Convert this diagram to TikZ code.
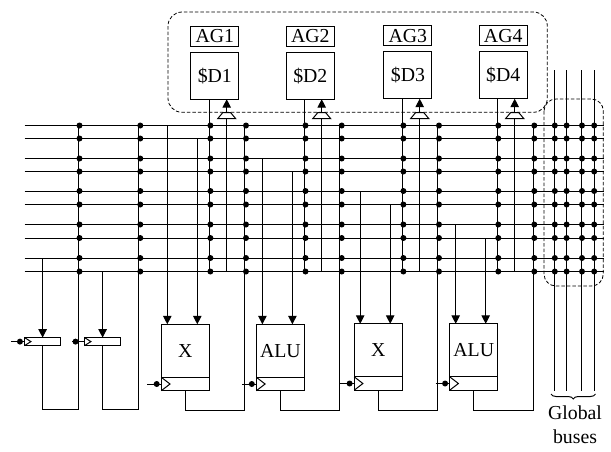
\documentclass[tikz,border=0pt]{standalone}
\usepackage{fontspec}
\setmainfont{Liberation Serif}
\usetikzlibrary{arrows.meta, positioning, decorations.pathreplacing}

\begin{document}
\begin{tikzpicture}[
    x=1pt, y=-1pt,
    every node/.style={font=\fontsize{19.8}{24}\selectfont},
    wire/.style={line width=1pt},
    arrow/.style={wire, -{Triangle[width=8.5pt,length=8.5pt]}},
    box/.style={rectangle, draw, line width=1pt, inner sep=0pt, outer sep=0pt, minimum width=48pt},
    cache/.style={box, minimum height=47pt},
    tag/.style={box, minimum height=20pt, above=6pt of #1},
    unit/.style={box, minimum height=53pt},
    latch/.style={box, minimum height=13.4pt, below=0pt of #1},
    smalllatch/.style={box, minimum width=36pt, minimum height=8pt},
    junction/.style={circle, fill=black, inner sep=0pt, minimum size=6pt},
    group/.style={line width=0.8pt, dash pattern=on 3.5pt off 2pt, rounded corners=#1}
]
\useasboundingbox (0,0) rectangle (611,451);

% Dashed groups
\draw[group=14pt] (168,12) rectangle (547.3,112.3);
\draw[group=12pt] (544,99) rectangle (603.3,286);

% Caches
\node[cache] (d1) at (214.8,75.7) {\$D1};
\node[cache] (d2) at (310.3,75.7) {\$D2};
\node[cache] (d3) at (407.9,75.2) {\$D3};
\node[cache] (d4) at (503.2,75.2) {\$D4};
\node[tag=d1] (ag1) {AG1};
\node[tag=d2] (ag2) {AG2};
\node[tag=d3] (ag3) {AG3};
\node[tag=d4] (ag4) {AG4};

% Tri-state buffers
\coordinate (buf1) at (226.7,118.7);
\coordinate (buf2) at (321.7,118.7);
\coordinate (buf3) at (419.7,118.5);
\coordinate (buf4) at (514.7,118.5);
\foreach \b in {buf1, buf2, buf3, buf4} {
    \draw[wire] ([xshift=-9pt]\b) -- ([xshift=9pt]\b) -- ([xshift=4pt,yshift=6pt]\b) -- ([xshift=-4pt,yshift=6pt]\b) -- cycle;
}

% Functional units
\node[unit] (x1) at (185.3,350.8) {X};
\node[unit] (alu1) at (280.4,350.8) {ALU};
\node[unit] (x2) at (378.2,350.3) {X};
\node[unit] (alu2) at (473.7,350.3) {ALU};
\node[latch=x1] (x1reg) {};
\node[latch=alu1] (alu1reg) {};
\node[latch=x2] (x2reg) {};
\node[latch=alu2] (alu2reg) {};

% Small registers
\node[smalllatch] (reg1) at (42.6,341.6) {};
\node[smalllatch] (reg2) at (102.6,341.6) {};

% Horizontal buses
\coordinate (busend) at (604,0);
\foreach \r/\y in {1/125.5, 2/138.5, 3/158.5, 4/171.5, 5/191, 6/204.5, 7/224.5, 8/238, 9/258, 10/271.5} {
    \coordinate (row\r) at (24.5,\y);
    \draw[wire] (row\r) -- (row\r -| busend);
}

% Return columns
\coordinate (c1) at (78.5,0);
\coordinate (c2) at (138.5,0);
\coordinate (c4) at (244.6,0);
\coordinate (c6) at (339.7,0);
\coordinate (c8) at (437.3,0);
\coordinate (c10) at (533.3,0);
\coordinate (ret1) at (0,409);
\coordinate (ret2) at (0,410.3);
\draw[wire] (c1 |- row1) -- (c1 |- ret1) -| (reg1.south);
\draw[wire] (c2 |- row1) -- (c2 |- ret1) -| (reg2.south);
\draw[wire] (c4 |- row1) -- (c4 |- ret2) -| (x1reg.south);
\draw[wire] (c6 |- row1) -- (c6 |- ret2) -| (alu1reg.south);
\draw[wire] (c8 |- row1) -- (c8 |- ret2) -| (x2reg.south);
\draw[wire] (c10 |- row1) -- (c10 |- ret2) -| (alu2reg.south);

% Cache columns
\coordinate (c3) at (209,0);
\coordinate (c5) at (304.3,0);
\coordinate (c7) at (402,0);
\coordinate (c9) at (497.3,0);
\draw[wire] (c3 |- d1.south) -- (c3 |- row10);
\draw[wire] (c5 |- d2.south) -- (c5 |- row10);
\draw[wire] (c7 |- d3.south) -- (c7 |- row10);
\draw[wire] (c9 |- d4.south) -- (c9 |- row10);

% Buffer wires
\draw[wire] (buf1) -- (buf1 |- row10);
\draw[wire] (buf2) -- (buf2 |- row10);
\draw[wire] (buf3) -- (buf3 |- row10);
\draw[wire] (buf4) -- (buf4 |- row10);
\draw[arrow] ([yshift=6pt]buf1) -- (buf1 |- d1.south);
\draw[arrow] ([yshift=6pt]buf2) -- (buf2 |- d2.south);
\draw[arrow] ([yshift=6pt]buf3) -- (buf3 |- d3.south);
\draw[arrow] ([yshift=6pt]buf4) -- (buf4 |- d4.south);

% Unit inputs
\draw[arrow] ([xshift=6pt]x1.north west |- row1) -- ([xshift=6pt]x1.north west);
\draw[arrow] ([xshift=-12pt]x1.north east |- row2) -- ([xshift=-12pt]x1.north east);
\draw[arrow] ([xshift=6pt]alu1.north west |- row3) -- ([xshift=6pt]alu1.north west);
\draw[arrow] ([xshift=-12pt]alu1.north east |- row4) -- ([xshift=-12pt]alu1.north east);
\draw[arrow] ([xshift=6pt]x2.north west |- row5) -- ([xshift=6pt]x2.north west);
\draw[arrow] ([xshift=-12pt]x2.north east |- row6) -- ([xshift=-12pt]x2.north east);
\draw[arrow] ([xshift=6pt]alu2.north west |- row7) -- ([xshift=6pt]alu2.north west);
\draw[arrow] ([xshift=-12pt]alu2.north east |- row8) -- ([xshift=-12pt]alu2.north east);
\draw[arrow] (reg1.north |- row9) -- (reg1.north);
\draw[arrow] (reg2.north |- row10) -- (reg2.north);

% Clocks
\draw[wire] ([xshift=-14pt]x1reg.west) -- node[junction, pos=0.67] (ck1) {} (x1reg.west);
\draw[wire] ([xshift=-14pt]alu1reg.west) -- node[junction, pos=0.67] (ck2) {} (alu1reg.west);
\draw[wire] ([xshift=-14pt]x2reg.west) -- node[junction, pos=0.67] (ck3) {} (x2reg.west);
\draw[wire] ([xshift=-14pt]alu2reg.west) -- node[junction, pos=0.67] (ck4) {} (alu2reg.west);
\draw[wire] ([xshift=-13.7pt]reg1.west) -- node[junction, pos=0.66] (ck5) {} (reg1.west);
\draw[wire] ([xshift=-12.6pt]reg2.west) -- node[junction, pos=0.28] (ck6) {} (reg2.west);
\foreach \n in {x1reg, alu1reg, x2reg, alu2reg} {
    \draw[wire] (\n.north west) -- ++(8.7,6.7) -- (\n.south west);
}
\foreach \n in {reg1, reg2} {
    \draw[wire] (\n.north west) -- ++(6.3,4) -- (\n.south west);
}

% Global buses
\coordinate (g1) at (554.3,70);
\coordinate (g2) at (566,70);
\coordinate (g3) at (581.7,70);
\coordinate (g4) at (594,70);
\coordinate (gend) at (0,390.7);
\foreach \g in {g1, g2, g3, g4} {
    \draw[wire] (\g) -- (\g |- gend);
}
\coordinate (bracel) at (551,394);
\coordinate (bracer) at (595.5,394);
\draw[wire, decorate, decoration={brace, amplitude=5pt}] (bracer) -- (bracel);
\node[align=center, below=8pt of bracel, xshift=24pt] (global) {Global\\buses};

% Junctions
\foreach \c/\x in {1/79.5, 2/140.3, 3/210.4, 4/246, 5/305.5, 6/341.7, 7/403.4, 8/439, 9/498.3, 10/534.3, 11/554.8, 12/566.6, 13/582, 14/594.2} {
    \coordinate (col\c) at (\x,0);
    \foreach \r in {1,...,10} {
        \node[junction] (j\c-\r) at (col\c |- row\r) {};
    }
}

\end{tikzpicture}
\end{document}
